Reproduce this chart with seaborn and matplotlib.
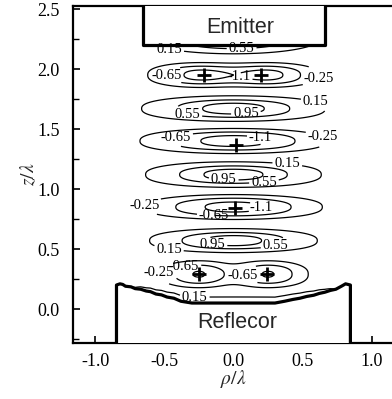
import numpy as np
import matplotlib
matplotlib.use("Agg")
import matplotlib.pyplot as plt
import seaborn as sns
import pandas as pd

# ---------------- data ----------------
levels = [-1.1, -0.65, -0.25, 0.15, 0.55, 0.95]
level_text = ['-1.1', '-0.65', '-0.25', '0.15', '0.55', '0.95']

# potential bands (alternating wells / maxima along the axis)
band_z = [2.28, 1.95, 1.67, 1.40, 1.12, 0.85, 0.57, 0.29]
band_amp = [1.5, -1.1, 1.2, -1.35, 1.2, -1.3, 1.2, -0.55]
band_w = [0.42, 0.33, 0.46, 0.52, 0.44, 0.50, 0.42, 0.283]
band_c = [0.0, 1.9, 0.0, 0.0, 0.0, 0.0, 0.0, 4.5]
band_h = [0.11, 0.085, 0.08, 0.085, 0.08, 0.085, 0.075, 0.095]
# layer hugging the reflector surface
surf_amp = 0.5
surf_w = 0.72
surf_h = 0.075
surf_shift = -0.03

# potential minima markers
well_rho = [-0.21, 0.20, 0.02, 0.01, -0.25, 0.24]
well_z = [1.95, 1.95, 1.37, 0.84, 0.29, 0.29]

# contour label positions
lab_text = ['0.15', '0.55', '-0.65', '-1.1', '-0.25', '0.55', '0.95', '0.15',
            '-0.65', '-1.1', '-0.25', '0.15', '0.95', '0.55', '-0.25', '-1.1',
            '-0.65', '0.15', '0.95', '0.55', '-0.65', '-0.25', '-0.65', '0.15']
lab_rho = [-0.46, 0.06, -0.56, 0.04, 0.65, -0.33, 0.09, 0.59,
           -0.42, 0.20, 0.65, 0.39, -0.07, 0.22, -0.63, 0.21,
           -0.14, -0.46, -0.15, 0.30, -0.37, -0.58, 0.05, -0.28]
lab_z = [2.19, 2.12, 1.94, 1.93, 1.90, 1.64, 1.64, 1.71,
         1.45, 1.45, 1.46, 1.22, 1.09, 1.07, 0.86, 0.84,
         0.76, 0.55, 0.55, 0.55, 0.42, 0.32, 0.28, 0.115]

# emitter and reflector outlines
emit_rho = [-0.65, -0.65, 0.66, 0.66]
emit_z = [2.60, 2.20, 2.20, 2.60]
refl_rho = [-0.845, -0.845, -0.82, -0.80, -0.78, -0.74, -0.71, -0.67, -0.63, -0.60,
            -0.56, -0.52, -0.48, -0.43, -0.38, -0.30, 0.30, 0.37, 0.43, 0.48,
            0.53, 0.58, 0.62, 0.66, 0.70, 0.74, 0.78, 0.81, 0.845, 0.845]
refl_z = [-0.35, 0.20, 0.21, 0.205, 0.19, 0.185, 0.17, 0.165, 0.15, 0.145,
          0.125, 0.118, 0.10, 0.09, 0.065, 0.05, 0.05, 0.065, 0.08, 0.09,
          0.105, 0.115, 0.13, 0.14, 0.155, 0.165, 0.19, 0.21, 0.20, -0.35]

# ---------------- style ----------------
sns.set_theme(style="white")
plt.rcParams['font.family'] = ['Liberation Serif', 'DejaVu Serif']
plt.rcParams['mathtext.fontset'] = 'stix'
plt.rcParams['axes.unicode_minus'] = False

fig = plt.figure(figsize=(3.92, 3.99), dpi=100)
ax = fig.add_axes([73.3 / 392, 56 / 399, (394 - 73.3) / 392, (343 - 6) / 399])

# ---------------- field ----------------
rho = np.linspace(-1.16, 1.16, 465)
z = np.linspace(-0.35, 2.55, 581)
R, Z = np.meshgrid(rho, z)
q = 2.5
U = np.zeros_like(R)
for zc, a, w, c, h in zip(band_z, band_amp, band_w, band_c, band_h):
    x2 = (R / w) ** 2
    U += a * np.exp(-x2) * (1 + c * x2) * np.exp(-np.abs((Z - zc) / h) ** q)
surf = np.interp(rho, refl_rho[1:-1], refl_z[1:-1])[None, :] + surf_shift
U += surf_amp * np.exp(-(R / surf_w) ** 4) * np.exp(-np.abs((Z - surf) / surf_h) ** q)

csets = {}
for lev, txt in zip(levels, level_text):
    csets[txt] = ax.contour(R, Z, U, levels=[lev], colors='black',
                            linewidths=0.9, linestyles='solid', zorder=2)
for txt, lr, lz in zip(lab_text, lab_rho, lab_z):
    cs = csets[txt]
    cs.clabel(manual=[(lr, lz)], fmt={levels[level_text.index(txt)]: txt},
              fontsize=10.5, inline=True, inline_spacing=2)
for cs in csets.values():
    for t in cs.labelTexts:
        t.set_rotation(0)
        t.set_family(['Liberation Serif'])

# emitter / reflector
ax.fill(emit_rho, emit_z, color='white', zorder=3)
ax.fill(refl_rho, refl_z, color='white', zorder=3)
sns.lineplot(x=emit_rho, y=emit_z, sort=False, estimator=None, color='black',
             linewidth=2.3, ax=ax, zorder=4)
sns.lineplot(x=refl_rho, y=refl_z, sort=False, estimator=None, color='black',
             linewidth=2.3, ax=ax, zorder=4)
ax.text(0.05, 2.35, 'Emitter', family=['Liberation Sans'], fontsize=15.5,
        ha='center', va='center', zorder=5)
ax.text(0.03, -0.11, 'Reflecor', family=['Liberation Sans'], fontsize=15.5,
        ha='center', va='center', zorder=5)

# wells
sns.scatterplot(x=well_rho, y=well_z, marker='+', s=110, color='black',
                linewidth=2.0, ax=ax, zorder=6)

# axes
ax.set_xlim(-1.157, 1.16)
ax.set_ylim(-0.283, 2.525)
ax.set_xticks([-1.0, -0.5, 0.0, 0.5, 1.0])
ax.set_xticklabels(['-1.0', '-0.5', '0.0', '0.5', '1.0'])
ax.set_yticks([0.0, 0.5, 1.0, 1.5, 2.0, 2.5])
ax.set_yticklabels(['0.0', '0.5', '1.0', '1.5', '2.0', '2.5'])
ax.set_xticks(np.arange(-1.0, 1.01, 0.25), minor=True)
ax.set_yticks(np.arange(-0.25, 2.51, 0.25), minor=True)
ax.tick_params(which='both', direction='in', bottom=True, left=True, top=False,
               right=False, colors='black', labelsize=13)
ax.tick_params(which='major', length=5, width=1.2)
ax.tick_params(which='minor', length=4, width=1.0)
ax.tick_params(axis='x', which='major', pad=7)
ax.tick_params(axis='y', which='major', pad=10)
for sp in ax.spines.values():
    sp.set_color('black')
    sp.set_linewidth(1.6)
ax.set_xlabel(r'$\rho/\lambda$', fontsize=14, labelpad=-1)
ax.set_ylabel(r'$z/\lambda$', fontsize=14, labelpad=-1)
ax.set_facecolor('white')

fig.savefig('out.png', dpi=100, facecolor='white')
